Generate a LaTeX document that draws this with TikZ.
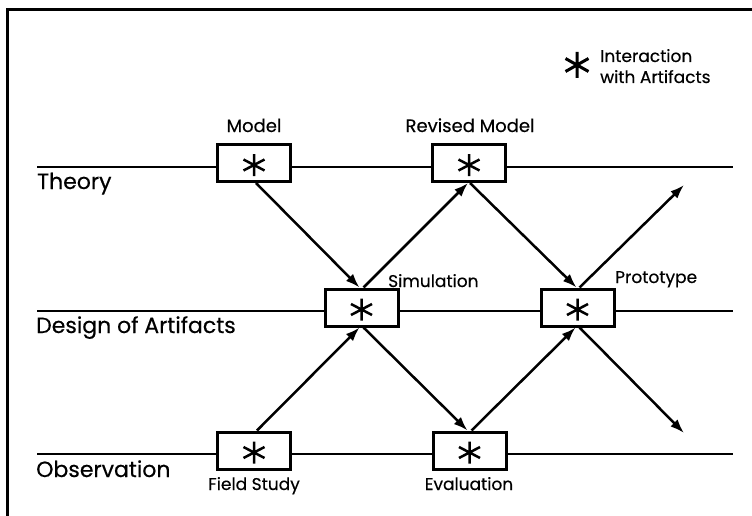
\documentclass[tikz,border=0pt]{standalone}
\usepackage{fontspec}
\setmainfont{Poppins}[FakeBold=0.4]
\usetikzlibrary{arrows.meta}
\tikzset{
  lane/.style={line width=2.6pt},
  lanelabel/.style={anchor=base west, inner sep=0pt, font=\fontsize{22}{26}\selectfont},
  boxlabel/.style={inner sep=0pt, font=\fontsize{17}{20}\selectfont},
  toplabel/.style={inner sep=0pt, font=\fontsize{18}{21}\selectfont},
  actbox/.style={draw, line width=3pt, fill=white, minimum width=73pt, minimum height=37pt, inner sep=0pt},
  flow/.style={line width=2.5pt, -{Latex[length=14pt,width=10pt]}},
  frameline/.style={line width=3pt},
  asterisk/.pic={\draw[line width=2.5pt] (0,-11)--(0,11) (-10.5,-5.5)--(10.5,5.5) (-10.5,5.5)--(10.5,-5.5);},
  bigasterisk/.pic={\draw[line width=3pt] (0,-13)--(0,13) (-11.5,-6.5)--(11.5,6.5) (-11.5,6.5)--(11.5,-6.5);}
}
\begin{document}
\begin{tikzpicture}[x=1pt,y=-1pt]
\useasboundingbox (0,0) rectangle (752,516);
% frame
\draw[frameline] (7,516) -- (7,10) -- (752,10);
% lanes
\coordinate (tL) at (37,167); \coordinate (tR) at (733,167);
\coordinate (dL) at (37,311); \coordinate (dR) at (733,311);
\coordinate (oL) at (37,454); \coordinate (oR) at (733,454);
\draw[lane] (tL) -- (tR);
\draw[lane] (dL) -- (dR);
\draw[lane] (oL) -- (oR);
\node[lanelabel] (theory) at (37,189) {Theory};
\node[lanelabel] (design) at (36,333) {Design of Artifacts};
\node[lanelabel] (obs) at (36,477) {Observation};
% boxes
\node[actbox] (model) at (254,163) {};
\node[actbox] (revised) at (469,163) {};
\node[actbox] (sim) at (361.5,307.5) {};
\node[actbox] (proto) at (577.5,307.5) {};
\node[actbox] (field) at (254,450.5) {};
\node[actbox] (eval) at (469.5,450.5) {};
\foreach \b in {model,revised,sim,proto,field,eval}{
  \pic at ([yshift=-2pt]\b.center) {asterisk};
}
% labels
\node[toplabel, anchor=base] (lmodel) at (254,132) {Model};
\node[toplabel, anchor=base] (lrev) at (470,132) {Revised Model};
\node[boxlabel, anchor=base west] (lsim) at (388,287) {Simulation};
\node[boxlabel, anchor=base west] (lproto) at (615,283) {Prototype};
\node[boxlabel, anchor=base] (lfield) at (254,490) {Field Study};
\node[boxlabel, anchor=base] (leval) at (469,490) {Evaluation};
% legend
\pic at (577,65) {bigasterisk};
\node[toplabel, anchor=base west, font=\fontsize{17}{20}\selectfont] (leg1) at (600,62) {Interaction};
\node[toplabel, anchor=base west, font=\fontsize{17}{20}\selectfont] (leg2) at (600,83) {with Artifacts};
% free ends
\coordinate (upend) at (684,185);
\coordinate (downend) at (684,433);
% arrows
\draw[flow] ([xshift=2pt]model.south) -- ([xshift=-2pt]sim.north);
\draw[flow] ([xshift=2pt]sim.north) -- ([xshift=-1pt]revised.south);
\draw[flow] ([xshift=1pt]revised.south) -- ([xshift=-1pt]proto.north);
\draw[flow] ([xshift=2pt]proto.north) -- (upend);
\draw[flow] ([xshift=3pt]field.north) -- ([xshift=-2pt]sim.south);
\draw[flow] ([xshift=2pt]sim.south) -- ([xshift=-2pt]eval.north);
\draw[flow] ([xshift=2pt]eval.north) -- ([xshift=-2pt]proto.south);
\draw[flow] ([xshift=2pt]proto.south) -- (downend);
\end{tikzpicture}
\end{document}
